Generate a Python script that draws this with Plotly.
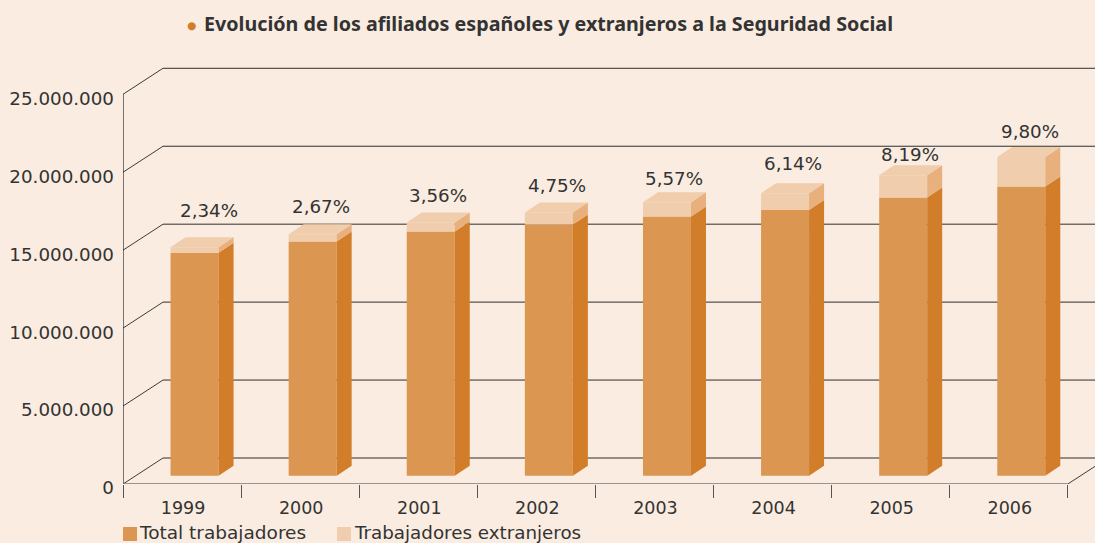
import plotly.graph_objects as go

years = ["1999", "2000", "2001", "2002", "2003", "2004", "2005", "2006"]
total_trabajadores = [14310000, 15020000, 15660000, 16110000, 16620000, 17050000, 17840000, 18550000]
trabajadores_extranjeros = [347000, 475000, 578000, 770000, 924000, 1070000, 1440000, 1890000]
porcentajes = ["2,34%", "2,67%", "3,56%", "4,75%", "5,57%", "6,14%", "8,19%", "9,80%"]
y_ticks = [0, 5000000, 10000000, 15000000, 20000000, 25000000]
y_labels = ["0", "5.000.000", "10.000.000", "15.000.000", "20.000.000", "25.000.000"]

BG = "#FAECE0"
FRONT, SIDE = "#DB9651", "#D17D2A"
FRONT_L, SIDE_L = "#F0CDAC", "#E7B07D"
INK = "#333333"
FONT = "DejaVu Sans"

W, H = 1095, 543
L, R, T, B = 123, 0, 60, 59
Y_MAX = 27.2e6
X_MIN, X_MAX = -0.5, 7.73
PX_X = (X_MAX - X_MIN) / (W - L - R)      # axis units per pixel
PX_Y = Y_MAX / (H - T - B)

WALL_DX, WALL_DY = 40 * PX_X, 26 * PX_Y   # depth of the floor / walls
BAR_DX, BAR_DY = 15 * PX_X, 10 * PX_Y     # depth of a bar
BAR_X, BAR_BASE = 12.5 * PX_X, 8.3 * PX_Y # bar placement on the floor
BAR_W = 48 * PX_X
LABEL_DX = [14.5, 8.5, 7.5, 8.5, 7, 7.5, 7, 8.5]
LABEL_DY = [26.6, 17.6, 16.7, 17, 14, 19.3, 10.3, 15.6]


def paper_x(px):
    return (px - L) / (W - L - R)


def paper_y(py):
    return 1 - (py - T) / (H - T - B)


idx = list(range(len(years)))
xc = [i + BAR_X for i in idx]
tops1 = [BAR_BASE + v for v in total_trabajadores]
tops2 = [a + b for a, b in zip(tops1, trabajadores_extranjeros)]

fig = go.Figure()
fig.add_bar(x=xc, y=total_trabajadores, base=[BAR_BASE] * 8, width=BAR_W, name="Total trabajadores",
            marker=dict(color=FRONT, line=dict(width=0)), showlegend=False)
fig.add_bar(x=xc, y=trabajadores_extranjeros, base=tops1, width=BAR_W, name="Trabajadores extranjeros",
            marker=dict(color=FRONT_L, line=dict(width=0)), showlegend=False)


def poly(xs, ys, color):
    fig.add_scatter(x=xs, y=ys, mode="lines", fill="toself", fillcolor=color,
                    line=dict(width=0), hoverinfo="skip", showlegend=False)


for c, t1, t2 in zip(xc, tops1, tops2):
    xr = c + BAR_W / 2
    xl = c - BAR_W / 2
    poly([xr, xr + BAR_DX, xr + BAR_DX, xr, xr], [BAR_BASE, BAR_BASE + BAR_DY, t1 + BAR_DY, t1, BAR_BASE], SIDE)
    poly([xr, xr + BAR_DX, xr + BAR_DX, xr, xr], [t1, t1 + BAR_DY, t2 + BAR_DY, t2, t1], SIDE_L)
    poly([xl, xl + BAR_DX, xr + BAR_DX, xr, xl], [t2, t2 + BAR_DY, t2 + BAR_DY, t2, t2], FRONT_L)

# back wall grid (under the bars)
shapes = []
for v in y_ticks:
    shapes.append(dict(type="line", layer="below", xref="x", yref="y",
                       x0=X_MIN + WALL_DX, x1=X_MAX, y0=v + WALL_DY, y1=v + WALL_DY,
                       line=dict(color="#2E2E2E", width=1)))

# front edges: drawn as line traces so that they are not clipped at the plot edge
for v in y_ticks:
    fig.add_scatter(x=[X_MIN, X_MIN + WALL_DX], y=[v, v + WALL_DY], mode="lines", cliponaxis=False,
                    line=dict(color="#3C3C3C", width=1), hoverinfo="skip", showlegend=False)
fig.add_scatter(x=[7.5, 7.5 + WALL_DX], y=[0, WALL_DY], mode="lines", cliponaxis=False,
                line=dict(color="#3C3C3C", width=1), hoverinfo="skip", showlegend=False)
fig.add_scatter(x=[X_MIN, X_MIN], y=[0, y_ticks[-1]], mode="lines", cliponaxis=False,
                line=dict(color="#222222", width=1.2), hoverinfo="skip", showlegend=False)
fig.add_scatter(x=[X_MIN, 7.5], y=[0, 0], mode="lines", cliponaxis=False,
                line=dict(color="#777777", width=1.6), hoverinfo="skip", showlegend=False)

annotations = []
for c, t2, p, dx, dy in zip(xc, tops2, porcentajes, LABEL_DX, LABEL_DY):
    annotations.append(dict(x=c, y=t2 + BAR_DY, xref="x", yref="y", text=p, showarrow=False,
                            xshift=dx, yshift=dy, font=dict(family=FONT, size=18.3, color=INK)))

# title bullet and legend
annotations.append(dict(x=paper_x(191), y=paper_y(25), xref="paper", yref="paper", xanchor="center", yanchor="middle",
                        text="\u25CF", showarrow=False, font=dict(family=FONT, size=10.5, color=SIDE)))
leg_y = paper_y(532.5)
annotations.append(dict(x=paper_x(139), y=leg_y, xref="paper", yref="paper", xanchor="left", yanchor="middle",
                        xshift=-2, showarrow=False,
                        text="Total trabajadores", font=dict(family=FONT, size=18.5, color=INK)))
annotations.append(dict(x=paper_x(354), y=leg_y, xref="paper", yref="paper", xanchor="left", yanchor="middle",
                        xshift=-2, showarrow=False,
                        text="Trabajadores extranjeros", font=dict(family=FONT, size=18.3, color=INK)))
for x0, col in ((123, FRONT), (337, FRONT_L)):
    shapes.append(dict(type="rect", xref="paper", yref="paper", x0=paper_x(x0), x1=paper_x(x0 + 14),
                       y0=paper_y(541), y1=paper_y(527), fillcolor=col, line=dict(width=0)))

fig.update_layout(
    width=W, height=H, autosize=False,
    margin=dict(l=L, r=R, t=T, b=B, pad=0),
    paper_bgcolor=BG, plot_bgcolor=BG,
    barmode="overlay", showlegend=False,
    shapes=shapes, annotations=annotations,
    title=dict(text="<b>Evolución de los afiliados españoles y extranjeros a la Seguridad Social</b>",
               x=204 / W, xref="container", xanchor="left", y=1 - 24.5 / H, yref="container", yanchor="middle",
               font=dict(family="Noto Sans", size=19.7, color=INK)),
    xaxis=dict(range=[X_MIN, X_MAX], showgrid=False, zeroline=False, showline=False,
               tickmode="array", tickvals=idx, ticktext=years, ticks="", ticklen=0,
               ticklabelstandoff=11, ticklabelshift=1, tickfont=dict(family=FONT, size=17.5, color=INK),
               minor=dict(tickmode="array", tickvals=[i - 0.5 for i in range(9)], ticks="outside",
                          ticklen=13, tickwidth=1.3, tickcolor="#555555", showgrid=False)),
    yaxis=dict(range=[0, Y_MAX], showgrid=False, zeroline=False, showline=False,
               tickmode="array", tickvals=y_ticks, ticktext=y_labels, ticks="", ticklen=0,
               ticklabelstandoff=8, ticklabelshift=4, tickfont=dict(family=FONT, size=18.3, color=INK)),
)
fig.write_html("out.html", config=dict(displayModeBar=False),
               post_script="document.body.style.margin='0';document.documentElement.style.background='%s';" % BG)
